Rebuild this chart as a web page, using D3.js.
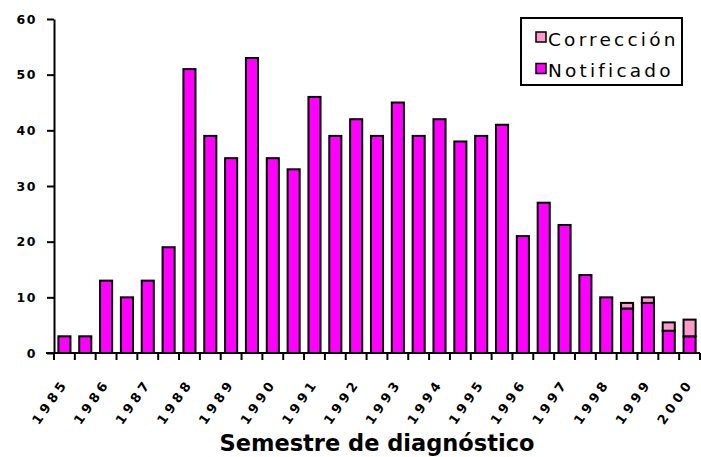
<!DOCTYPE html>
<html><head><meta charset="utf-8">
<script src="https://cdn.jsdelivr.net/npm/d3@7"></script>
<style>body{margin:0;background:#fff}svg{display:block}</style>
</head><body><svg id="c" width="701" height="457"></svg>
<script>
const years = ["1985","1986","1987","1988","1989","1990","1991","1992","1993","1994","1995","1996","1997","1998","1999","2000"];
const categories = ["1985-1","1985-2","1986-1","1986-2","1987-1","1987-2","1988-1","1988-2","1989-1","1989-2","1990-1","1990-2","1991-1","1991-2","1992-1","1992-2","1993-1","1993-2","1994-1","1994-2","1995-1","1995-2","1996-1","1996-2","1997-1","1997-2","1998-1","1998-2","1999-1","1999-2","2000-1"];
const notificado = [3,3,13,10,13,19,51,39,35,53,35,33,46,39,42,39,45,39,42,38,39,41,21,27,23,14,10,8,9,4,3];
const correccion = [0,0,0,0,0,0,0,0,0,0,0,0,0,0,0,0,0,0,0,0,0,0,0,0,0,0,0,1,1,1.5,3];
const yTicks = [0,10,20,30,40,50,60];
const seriesNames = ["Notificado","Corrección"];
const seriesColors = ["#ff00ff","#ff99cc"];
const legendOrder = ["Corrección","Notificado"];
const xTitle = "Semestre de diagnóstico";

const svg = d3.select("#c");
const x = d3.scaleBand().domain(categories).range([54, 700]).paddingInner(0.42).paddingOuter(0.21);
const y = d3.scaleLinear().domain([0, 60]).range([353, 19]);
const color = d3.scaleOrdinal().domain(seriesNames).range(seriesColors);

const rows = categories.map((c, i) => ({cat: c, "Notificado": notificado[i], "Corrección": correccion[i]}));
const stacked = d3.stack().keys(seriesNames)(rows);

const gBars = svg.append("g");
stacked.forEach(layer => {
  gBars.selectAll(null).data(layer.filter(d => d[1] - d[0] > 0)).join("rect")
    .attr("x", d => x(d.data.cat))
    .attr("y", d => y(d[1]))
    .attr("width", x.bandwidth())
    .attr("height", d => y(d[0]) - y(d[1]))
    .attr("fill", color(layer.key))
    .attr("stroke", "#000")
    .attr("stroke-width", 2);
});

// Y axis
const yAxis = svg.append("g").attr("transform", "translate(54,0)")
  .call(d3.axisLeft(y).tickValues(yTicks).tickSize(7).tickSizeOuter(0).tickPadding(10));
yAxis.select(".domain").attr("stroke", "#000").attr("stroke-width", 2);
yAxis.selectAll(".tick line").attr("stroke", "#000").attr("stroke-width", 2);
yAxis.selectAll(".tick text").attr("font-family", "DejaVu Sans").attr("font-weight", "bold")
  .attr("font-size", 12.5).attr("letter-spacing", 1.5).attr("fill", "#000");

// X axis line and ticks at category boundaries
const step = x.step();
const x0 = x.range()[0];
svg.append("line").attr("x1", 46).attr("x2", x.range()[1]).attr("y1", y(0)).attr("y2", y(0))
  .attr("stroke", "#000").attr("stroke-width", 2);
svg.append("g").selectAll("line").data(d3.range(categories.length + 1)).join("line")
  .attr("x1", i => x0 + i * step).attr("x2", i => x0 + i * step)
  .attr("y1", y(0)).attr("y2", y(0) + 7)
  .attr("stroke", "#000").attr("stroke-width", 2);

// X labels
svg.append("g").selectAll("text").data(years).join("text")
  .attr("transform", d => `translate(${x(d + "-1") + x.bandwidth() / 2 + 2},386) rotate(-55)`)
  .attr("text-anchor", "end")
  .attr("dx", 4)
  .attr("font-family", "DejaVu Sans").attr("font-weight", "bold").attr("font-size", 13)
  .attr("letter-spacing", 4)
  .text(d => d);

// X title
svg.append("text").attr("x", 377).attr("y", 451).attr("text-anchor", "middle")
  .attr("font-family", "DejaVu Sans").attr("font-weight", "bold").attr("font-size", 22.5)
  .text(xTitle);

// Legend
const lg = svg.append("g");
lg.append("rect").attr("x", 521).attr("y", 18).attr("width", 161).attr("height", 67)
  .attr("fill", "#fff").attr("stroke", "#000").attr("stroke-width", 2);
legendOrder.forEach((name, i) => {
  lg.append("rect").attr("x", 536).attr("y", 32 + i * 31.5).attr("width", 10).attr("height", 10)
    .attr("fill", color(name)).attr("stroke", "#000").attr("stroke-width", 1.5);
  lg.append("text").attr("x", 548).attr("y", 46 + i * 31)
    .attr("font-family", "DejaVu Sans").attr("font-size", 18.5).attr("letter-spacing", 3.2)
    .text(name);
});
</script></body></html>
